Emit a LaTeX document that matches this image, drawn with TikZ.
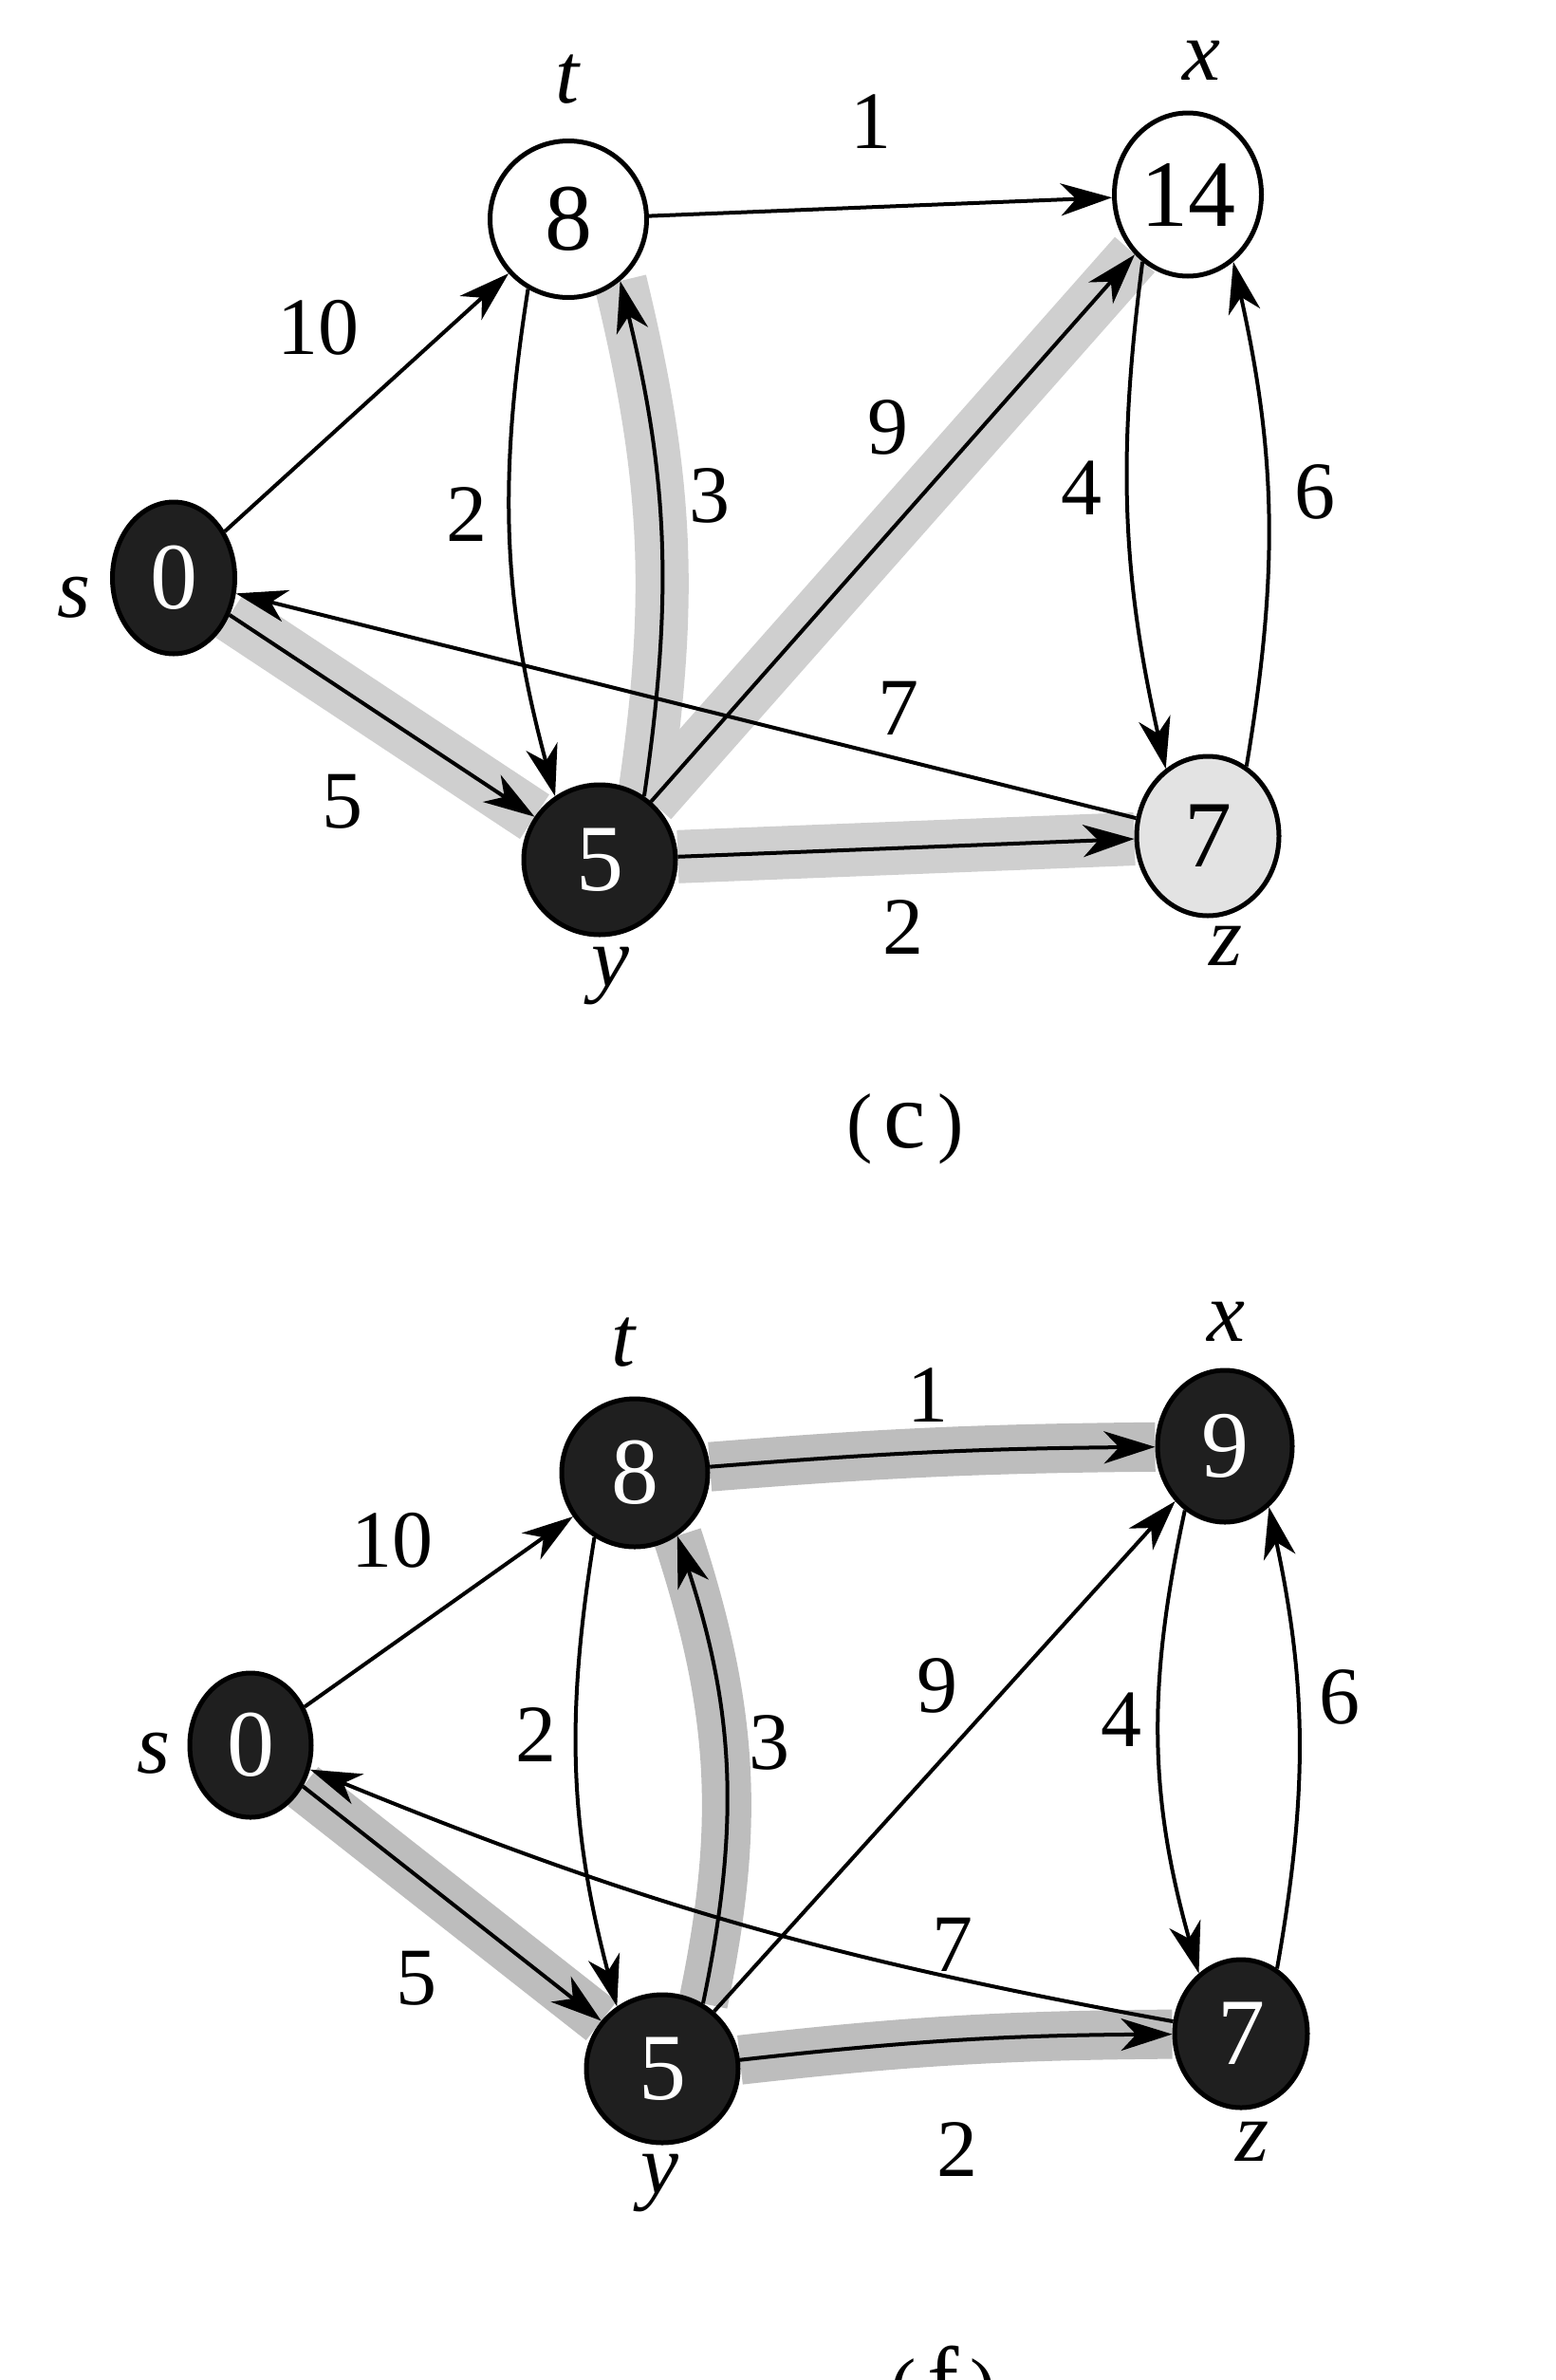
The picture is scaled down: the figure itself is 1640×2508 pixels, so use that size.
\documentclass[tikz,border=0pt]{standalone}
\usepackage{fontspec}
\setmainfont{Liberation Serif}
\usetikzlibrary{arrows.meta,shapes.geometric,backgrounds}
\begin{document}
\begin{tikzpicture}[x=1pt,y=1pt,
  nd/.style={ellipse, draw=black, line width=5pt, inner sep=0pt, font=\fontsize{100}{100}\selectfont},
  wn/.style={nd, fill=white},
  bn/.style={nd, fill=black!88, text=white},
  gn/.style={nd, fill=gray!22},
  arr/.style={draw=black, line width=4pt, -{Stealth[length=54pt,width=34pt,inset=16pt]}},
  bandc/.style={draw=gray!38, line width=56pt},
  bandf/.style={draw=gray!52, line width=52pt},
  wt/.style={font=\fontsize{86}{86}\selectfont, inner sep=0pt},
  nm/.style={font=\fontsize{90}{90}\selectfont\itshape, inner sep=0pt},
  captxt/.style={font=\fontsize{82}{82}\selectfont, inner sep=0pt}
]
\path[use as bounding box] (0,0) rectangle (1640,-2508);

% ---------- (c) ----------
\node[wn, minimum width=165pt, minimum height=165pt] (t) at (599,-231) {8};
\node[wn, minimum width=155pt, minimum height=172pt] (x) at (1252,-205) {14};
\node[bn, minimum width=129pt, minimum height=160pt] (s) at (183,-609) {0};
\node[bn, minimum width=160pt, minimum height=158pt] (y) at (632,-906) {5};
\node[gn, minimum width=150pt, minimum height=168pt] (z) at (1273,-881) {7};

% ---------- (f) ----------
\node[bn, minimum width=154pt, minimum height=156pt] (t2) at (669,-1552) {8};
\node[bn, minimum width=142pt, minimum height=160pt] (x2) at (1291,-1524) {9};
\node[bn, minimum width=128pt, minimum height=152pt] (s2) at (264,-1839) {0};
\node[bn, minimum width=160pt, minimum height=156pt] (y2) at (698,-2180) {5};
\node[bn, minimum width=140pt, minimum height=156pt] (z2) at (1308,-2143) {7};

\begin{scope}[on background layer]
  \fill[white] (0,0) rectangle (1640,-2508);
  \draw[bandc] (y.55) to[bend right=11] (t.310);
  \draw[bandc] (y) -- (x);
  \draw[bandc] (s) -- (y);
  \draw[bandc] (y) -- (z);
  \draw[bandf] (t2) to[bend left=2] (x2);
  \draw[bandf] (y2.58) to[bend right=15] (t2.304);
  \draw[bandf] (s2) -- (y2);
  \draw[bandf] (y2) to[bend left=3] (z2);
\end{scope}

% edges (c)
\draw[arr] (s) -- (t);
\draw[arr] (t) -- (x);
\draw[arr] (t.240) to[bend right=12] (y.125);
\draw[arr] (y.55) to[bend right=11] (t.310);
\draw[arr] (y) -- (x);
\draw[arr] (x.236) to[bend right=10] (z.122);
\draw[arr] (z.61) to[bend right=11] (x.304);
\draw[arr] (z) -- (s);
\draw[arr] (s) -- (y);
\draw[arr] (y) -- (z);

% edges (f)
\draw[arr] (s2) -- (t2);
\draw[arr] (t2) to[bend left=2] (x2);
\draw[arr] (t2.238) to[bend right=12] (y2.126);
\draw[arr] (y2.58) to[bend right=15] (t2.304);
\draw[arr] (y2) -- (x2);
\draw[arr] (x2.238) to[bend right=14] (z2.125);
\draw[arr] (z2.61) to[bend right=11] (x2.306);
\draw[arr] (z2) to[bend left=6] (s2);
\draw[arr] (s2) -- (y2);
\draw[arr] (y2) to[bend left=3] (z2);

% names (c)
\node[nm] (nt) at (598,-84) {t};
\node[nm] (nx) at (1266,-64) {x};
\node[nm] (ns) at (78,-630) {s};
\node[nm] (ny) at (643,-1029) {y};
\node[nm] (nz) at (1292,-997) {z};
% weights (c)
\node[wt] (w1) at (918,-128) {1};
\node[wt] (w2) at (335,-345) {10};
\node[wt] (w3) at (492,-542) {2};
\node[wt] (w4) at (748,-522) {3};
\node[wt] (w5) at (936,-450) {9};
\node[wt] (w6) at (1140,-514) {4};
\node[wt] (w7) at (1386,-518) {6};
\node[wt] (w8) at (947,-746) {7};
\node[wt] (w9) at (361,-845) {5};
\node[wt] (w10) at (952,-977) {2};
\node[captxt] (capc) at (954,-1190) {(\hspace{12pt}{\fontsize{100}{100}\selectfont c}\hspace{12pt})};

% names (f)
\node[nm] (mt) at (657,-1415) {t};
\node[nm] (mx) at (1292,-1393) {x};
\node[nm] (ms) at (162,-1848) {s};
\node[nm] (my) at (695,-2301) {y};
\node[nm] (mz) at (1320,-2257) {z};
% weights (f)
\node[wt] (v1) at (978,-1470) {1};
\node[wt] (v2) at (413,-1623) {10};
\node[wt] (v3) at (565,-1828) {2};
\node[wt] (v4) at (811,-1836) {3};
\node[wt] (v5) at (988,-1776) {9};
\node[wt] (v6) at (1182,-1812) {4};
\node[wt] (v7) at (1412,-1788) {6};
\node[wt] (v8) at (1004,-2049) {7};
\node[wt] (v9) at (439,-2085) {5};
\node[wt] (v10) at (1009,-2265) {2};
\node[captxt] (capf) at (994,-2516) {(\hspace{12pt}{\fontsize{100}{100}\selectfont f}\hspace{12pt})};
\end{tikzpicture}
\end{document}
